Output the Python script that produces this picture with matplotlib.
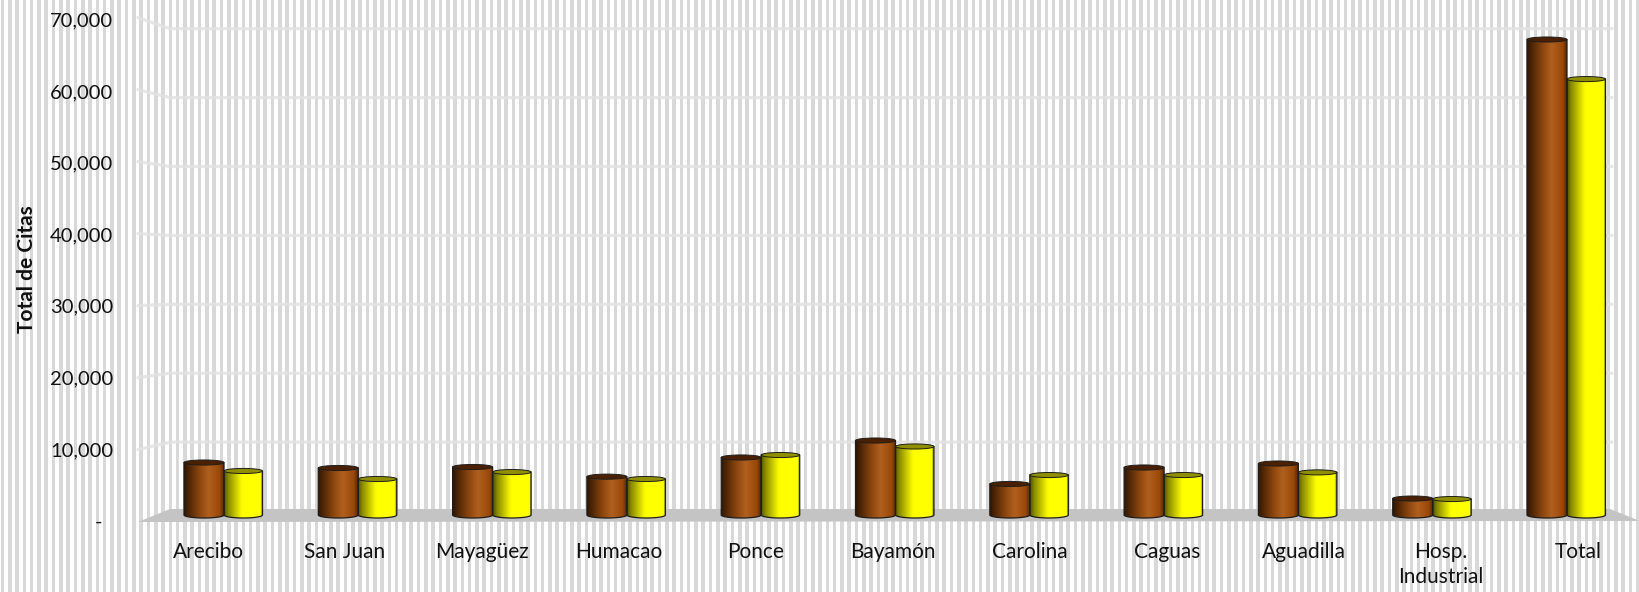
import matplotlib
matplotlib.use("Agg")

import matplotlib.pyplot as plt
import numpy as np
from matplotlib.colors import LinearSegmentedColormap
from matplotlib.patches import Rectangle, Polygon, Ellipse

plt.rcParams['font.family'] = ['Lato', 'DejaVu Sans']

regiones = ['Arecibo', 'San Juan', 'Mayagüez', 'Humacao', 'Ponce', 'Bayamón',
            'Carolina', 'Caguas', 'Aguadilla', 'Hosp.\nIndustrial', 'Total']
citas_a = [7390, 6620, 6760, 5400, 8100, 10490, 4370, 6690, 7250, 2320, 66970]
citas_b = [6200, 5070, 6050, 5070, 8450, 9650, 5630, 5630, 6000, 2250, 61400]
y_ticks = [0, 10000, 20000, 30000, 40000, 50000, 60000, 70000]

W, H = 1640, 592
fig = plt.figure(figsize=(W / 100, H / 100), dpi=100, facecolor='white')

# background stripes + fake 3d walls, in pixel coords
bg = fig.add_axes([0, 0, 1, 1])
bg.set_xlim(0, W)
bg.set_ylim(H, 0)
bg.axis('off')
for x in np.arange(0.7, W, 7.3):
    bg.add_patch(Rectangle((x, 0), 3.6, H, color='#d8d8d8', lw=0))

bg.add_patch(Polygon([(138, 522), (170, 509), (1610, 509), (1640, 521)], color='#c4c4c4', lw=0))
for v in y_ticks[1:]:
    front = 521.6 - v / 10000 * 72
    back = 511 - v / 10000 * 68.9
    bg.plot([138, 170, 1612], [front, back, back], color='#e2e2e2', lw=2.3, alpha=0.85,
            solid_joinstyle='round', solid_capstyle='round')

# front axis: only the labels
ax = fig.add_axes([138 / W, 1 - 520.6 / H, (W - 138) / W, (520.6 - 19.4) / H])
ax.patch.set_alpha(0)
ax.set_ylim(0, 70000)
ax.set_xlim((138 - 208) / 137, (W - 208) / 137)
for s in ax.spines.values():
    s.set_visible(False)
ax.set_yticks(y_ticks)
ax.set_yticklabels(['-  '] + [f'{v:,}' for v in y_ticks[1:]])
ax.set_xticks(range(len(regiones)))
ax.set_xticklabels(regiones, linespacing=1.3)
ax.tick_params(axis='y', length=0, pad=18, labelsize=14.5, labelcolor='#111111')
ax.tick_params(axis='x', length=0, pad=15.5, labelsize=15, labelcolor='#111111')

# bars live on their own axes, a bit behind the front plane
base_px = 515
px_per_unit = 71 / 10000
x0_px, step_px = 224, 134.3
ab = fig.add_axes([0, 0, 1, 1])
ab.patch.set_alpha(0)
ab.axis('off')

brown = LinearSegmentedColormap.from_list('brown', [(0, '#2e1706'), (0.1, '#4a2406'), (0.4, '#8e470f'),
                                                    (0.62, '#b0601e'), (0.9, '#9a4808'), (1, '#5a2a04')])
yellow = LinearSegmentedColormap.from_list('yellow', [(0, '#555500'), (0.1, '#8a8a00'), (0.45, '#fafa00'),
                                                      (0.5, '#ffff00'), (0.95, '#ffff00'), (1, '#707000')])
grad = np.linspace(0, 1, 64).reshape(1, -1)
bar_w = 40 / step_px
yel_w = 38.5 / step_px


def cylinder(xc, w, v, cmap, rim):
    ry = 3 / px_per_unit
    th = np.linspace(np.pi, 2 * np.pi, 30)
    pts = [(xc - w / 2, v)] + [(xc + w / 2 * np.cos(t), ry * np.sin(t)) for t in th] + [(xc + w / 2, v)]
    body = Polygon(pts, closed=True, fc='none', ec='#1e1e1e', lw=0.9, zorder=4)
    ab.add_patch(body)
    im = ab.imshow(grad, cmap=cmap, extent=(xc - w / 2, xc + w / 2, -ry, v), aspect='auto',
                   zorder=3, interpolation='bilinear')
    im.set_clip_path(body)
    ab.add_patch(Ellipse((xc, v), w, 1.7 * ry, fc=rim, ec='#1e1e1e', lw=0.7, zorder=5))


for i in range(len(regiones)):
    cylinder(i - bar_w / 2, bar_w, citas_a[i], brown, '#4a2000')
    cylinder(i + yel_w / 2, yel_w, citas_b[i], yellow, '#8f8f00')
ab.set_xlim(-x0_px / step_px, (W - x0_px) / step_px)
ab.set_ylim((base_px - H) / px_per_unit, base_px / px_per_unit)

fig.text(27 / W, 1 - 269.5 / H, 'Total de Citas', rotation=90, ha='center', va='center',
         fontsize=15, fontweight='bold', color='#111111')

fig.savefig('out.png', dpi=100)
